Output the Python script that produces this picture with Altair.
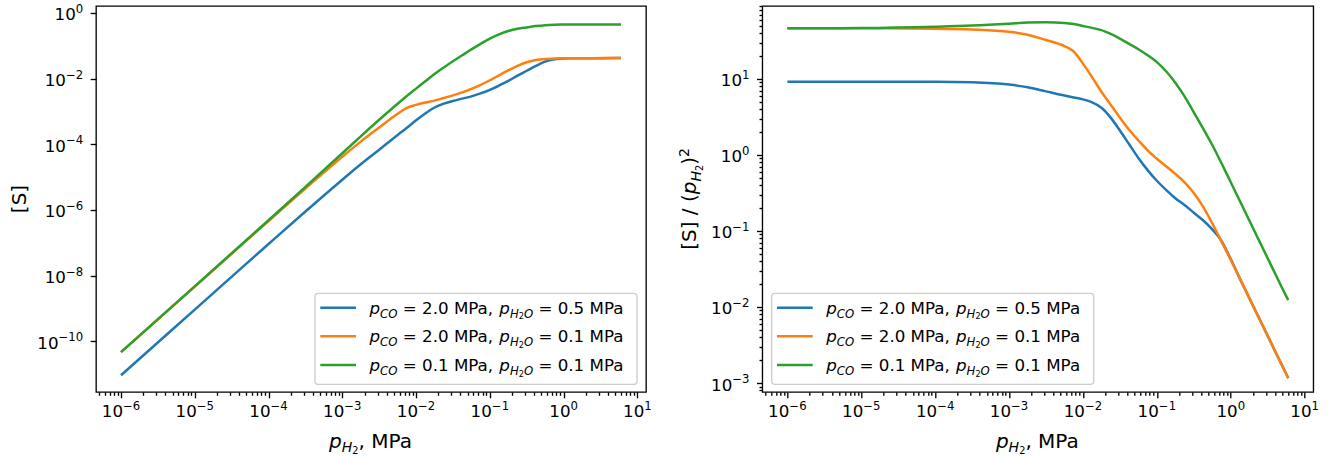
import math
import altair as alt
import pandas as pd

# ---------------- data (log10 values) ----------------
LOG_P = [-6, -5, -4, -3.5, -3, -2.75, -2.5, -2.25, -2.125, -2, -1.875, -1.75, -1.625,
         -1.5, -1.375, -1.25, -1.125, -1, -0.875, -0.75, -0.625, -0.5, -0.375, -0.25,
         -0.125, 0, 0.125, 0.25, 0.4, 0.55, 0.7, 0.778]

LEFT_BLUE = [-11.04, -9.04, -7.04, -6.05, -5.08, -4.61, -4.165, -3.72, -3.5, -3.27, -3.06,
             -2.88, -2.76, -2.68, -2.61, -2.54, -2.45, -2.34, -2.21, -2.07, -1.91, -1.76,
             -1.61, -1.48, -1.41, -1.385, -1.38, -1.378, -1.377, -1.376, -1.375, -1.375]
LEFT_ORANGE = [-10.335, -8.335, -6.34, -5.35, -4.38, -3.92, -3.49, -3.07, -2.89, -2.8, -2.73,
               -2.67, -2.59, -2.51, -2.42, -2.31, -2.19, -2.05, -1.9, -1.75, -1.61, -1.5,
               -1.43, -1.40, -1.39, -1.382, -1.378, -1.377, -1.376, -1.375, -1.375, -1.375]
LEFT_GREEN = [-10.335, -8.33, -6.315, -5.3, -4.275, -3.76, -3.255, -2.765, -2.53, -2.305, -2.08,
              -1.86, -1.66, -1.47, -1.29, -1.11, -0.94, -0.78, -0.65, -0.55, -0.48, -0.44,
              -0.40, -0.37, -0.355, -0.35, -0.348, -0.347, -0.347, -0.347, -0.347, -0.347]

RIGHT_BLUE = [0.963, 0.963, 0.962, 0.955, 0.925, 0.89, 0.835, 0.78, 0.755, 0.73, 0.69, 0.62,
              0.49, 0.32, 0.14, -0.04, -0.2, -0.34, -0.46, -0.57, -0.66, -0.76, -0.86, -0.98,
              -1.13, -1.37, -1.63, -1.88, -2.18, -2.48, -2.78, -2.935]
RIGHT_ORANGE = [1.665, 1.665, 1.66, 1.65, 1.62, 1.58, 1.51, 1.43, 1.36, 1.2, 1.02, 0.83, 0.66,
                0.49, 0.33, 0.19, 0.06, -0.05, -0.15, -0.25, -0.36, -0.5, -0.68, -0.9, -1.14,
                -1.38, -1.63, -1.88, -2.18, -2.48, -2.78, -2.935]
RIGHT_GREEN = [1.665, 1.668, 1.685, 1.70, 1.725, 1.74, 1.745, 1.735, 1.72, 1.695, 1.67, 1.64,
               1.59, 1.53, 1.46, 1.39, 1.31, 1.22, 1.1, 0.95, 0.77, 0.56, 0.35, 0.13, -0.11,
               -0.36, -0.61, -0.86, -1.16, -1.46, -1.76, -1.91]

P_CO = ["2.0", "2.0", "0.1"]
P_H2O = ["0.5", "0.1", "0.1"]
SERIES = [f"pCO = {a} MPa, pH2O = {b} MPa" for a, b in zip(P_CO, P_H2O)]
COLORS = ["#1f77b4", "#ff7f0e", "#2ca02c"]

X_DOM = (-6.339, 1.117)
LEFT_Y_DOM = (-11.55, 0.213)
RIGHT_Y_DOM = (-3.118, 1.958)
X_MAJOR = [-6, -5, -4, -3, -2, -1, 0, 1]
LEFT_Y_MAJOR = [-10, -8, -6, -4, -2, 0]
RIGHT_Y_MAJOR = [-3, -2, -1, 0, 1]

PLOT_H = 386
LEFT_W = 550
RIGHT_W = 551
FS_TICK = 16.7
FS_EXP = 11.7
FS_LEG = 16.7
FS_TITLE = 20

# --------------- helpers ----------------
LOGV = "(log(datum.value)/LN10)"
MAJOR_TEST = f"abs({LOGV} - round({LOGV})) < 0.001"

W = {' ': 0.318, '[': 0.390, ']': 0.390, 'S': 0.635, '/': 0.337, '(': 0.390, ')': 0.390,
     'p': 0.635, 'H': 0.752, 'C': 0.698, 'O': 0.787, '=': 0.838, '.': 0.318, ',': 0.318,
     'M': 0.863, 'P': 0.603, 'a': 0.613, '\u2212': 0.838}


def tw(s, fs):
    return sum(W.get(c, 0.636) for c in s) * fs


def exp_text(k):
    return str(k).replace("-", "\u2212")


def tick_values(dom, majors, minors=True):
    vals = []
    for d in range(math.floor(dom[0]) - 1, math.ceil(dom[1]) + 1):
        for k in range(1, 10):
            if k > 1 and not minors:
                continue
            if k == 1 and d not in majors:
                continue
            v = k * 10.0 ** d
            if dom[0] <= math.log10(v) <= dom[1]:
                vals.append(v)
    return vals


def make_axis(values):
    return alt.Axis(values=values, labels=False,
                    tickSize={"condition": {"test": MAJOR_TEST, "value": 5.8}, "value": 3.3},
                    tickColor="black", tickWidth=1.33, grid=False, domain=False, title=None)


def layout(segs, x0, y0, rot=False):
    """segs: (text, size, italic, shift_down). Returns rows of text pieces."""
    rows = []
    pos = 0.0
    for text, fs, it, sh in segs:
        lead = len(text) - len(text.lstrip(' '))
        start = pos + lead * W[' '] * fs
        t = text.strip(' ')
        if rot:
            rows.append(dict(tx=x0 + sh, ty=y0 - start, text=t, fs=fs, it=it, rot=True))
        else:
            rows.append(dict(tx=x0 + start, ty=y0 + sh, text=t, fs=fs, it=it, rot=False))
        pos += tw(text, fs)
    return rows, pos


def total(segs):
    return sum(tw(t, fs) for t, fs, _, _ in segs)


def legend_segs(a, b):
    f = FS_LEG
    return [("p", f, True, 0), ("CO", f * 0.7, True, 3.7), (f" = {a} MPa, ", f, False, 0),
            ("p", f, True, 0), ("H", f * 0.7, True, 3.7), ("2", f * 0.49, False, 5.6),
            ("O", f * 0.7, True, 3.7), (f" = {b} MPa", f, False, 0)]


XTITLE = [("p", FS_TITLE, True, 0), ("H", FS_TITLE * 0.7, True, 4.4),
          ("2", FS_TITLE * 0.49, False, 6.6), (", MPa", FS_TITLE, False, 0)]

TEN_W = tw("10", FS_TICK)
EXP_RAISE = 7.3


def tick_label_layers(majors, scale, axis_ch, axis):
    """Tick labels '10' + superscript exponent, positioned through the scale."""
    layers = []
    groups = {}
    for k in majors:
        groups.setdefault(len(exp_text(k)), []).append(k)
    for _, ks in groups.items():
        ew = tw(exp_text(ks[0]), FS_EXP)
        df = pd.DataFrame(dict(v=[10.0 ** k for k in ks], ten=["10"] * len(ks),
                               e=[exp_text(k) for k in ks]))
        if axis_ch == "x":
            dx = TEN_W / 2 - ew / 2
            pos = dict(x=alt.X("v:Q", scale=scale, axis=axis), y=alt.value(PLOT_H + 25.3))
            base_dy = 0
        else:
            dx = 0
            pos = dict(y=alt.Y("v:Q", scale=scale, axis=axis), x=alt.value(-12.8 - ew))
            base_dy = 7.5
        layers.append(alt.Chart(df).mark_text(
            align="right", baseline="alphabetic", dx=dx, dy=base_dy, fontSize=FS_TICK,
            font="DejaVu Sans", color="black").encode(text="ten:N", **pos))
        layers.append(alt.Chart(df).mark_text(
            align="left", baseline="alphabetic", dx=dx, dy=base_dy - EXP_RAISE, fontSize=FS_EXP,
            font="DejaVu Sans", color="black").encode(text="e:N", **pos))
    return layers


def panel(logys, ydom, ymajor, yminor, width, ytitle, ytitle_x, box_x):
    xs = alt.Scale(type="log", domain=[10 ** X_DOM[0], 10 ** X_DOM[1]], nice=False)
    ys = alt.Scale(type="log", domain=[10 ** ydom[0], 10 ** ydom[1]], nice=False)
    xaxis = make_axis(tick_values(X_DOM, X_MAJOR))
    yaxis = make_axis(tick_values(ydom, ymajor, yminor))
    rows = []
    for name, arr in zip(SERIES, logys):
        for lp, ly in zip(LOG_P, arr):
            rows.append(dict(p=10 ** lp, s=10 ** ly, series=name))
    df = pd.DataFrame(rows)
    lines = alt.Chart(df).mark_line(strokeWidth=2.5, interpolate="monotone").encode(
        x=alt.X("p:Q", scale=xs, axis=xaxis),
        y=alt.Y("s:Q", scale=ys, axis=yaxis),
        color=alt.Color("series:N", scale=alt.Scale(domain=SERIES, range=COLORS), legend=None),
    )

    # legend
    bx1, bx2 = box_x, box_x + 322
    by1, by2 = 287.3, 378.3
    box = alt.Chart(pd.DataFrame([dict(x1=bx1, x2=bx2, y1=by1, y2=by2)])).mark_rect(
        cornerRadius=3.3, fill="white", fillOpacity=0.8, stroke="#cccccc", strokeWidth=1.3
    ).encode(x=alt.X("x1:Q", scale=None, axis=None), x2="x2:Q",
             y=alt.Y("y1:Q", scale=None, axis=None), y2="y2:Q")
    row_y = [301.8, 330.3, 359.0]
    handles = pd.DataFrame([dict(x1=bx1 + 5.3, x2=bx1 + 41.0, y=yy, c=c)
                            for yy, c in zip(row_y, COLORS)])
    hl = alt.Chart(handles).mark_rule(strokeWidth=2.5).encode(
        x=alt.X("x1:Q", scale=None, axis=None), x2="x2:Q",
        y=alt.Y("y:Q", scale=None, axis=None), color=alt.Color("c:N", scale=None))

    texts = []
    for yy, a, b in zip(row_y, P_CO, P_H2O):
        r, _ = layout(legend_segs(a, b), bx1 + 54.5, yy + 6.0)
        texts += r
    r, _ = layout(XTITLE, width / 2 - total(XTITLE) / 2, 441.5)
    texts += r
    r, _ = layout(ytitle, ytitle_x, PLOT_H / 2 + total(ytitle) / 2, rot=True)
    texts += r
    tdf = pd.DataFrame(texts)

    layers = [lines, box, hl]
    layers += tick_label_layers(X_MAJOR, xs, "x", xaxis)
    layers += tick_label_layers(ymajor, ys, "y", yaxis)
    for rot in (False, True):
        for it in (False, True):
            sub = tdf[(tdf.rot == rot) & (tdf.it == it)][["tx", "ty", "text", "fs"]]
            if len(sub) == 0:
                continue
            layers.append(alt.Chart(sub).mark_text(
                align="left", baseline="alphabetic", font="DejaVu Sans", color="black",
                fontStyle="italic" if it else "normal", angle=270 if rot else 0
            ).encode(x=alt.X("tx:Q", scale=None, axis=None),
                     y=alt.Y("ty:Q", scale=None, axis=None),
                     text="text:N", size=alt.Size("fs:Q", scale=None)))
    return alt.layer(*layers).properties(width=width, height=PLOT_H)


left = panel([LEFT_BLUE, LEFT_ORANGE, LEFT_GREEN], LEFT_Y_DOM, LEFT_Y_MAJOR, False, LEFT_W,
             [("[S]", FS_TITLE, False, 0)], -69.6, 219.0)
right = panel([RIGHT_BLUE, RIGHT_ORANGE, RIGHT_GREEN], RIGHT_Y_DOM, RIGHT_Y_MAJOR, True, RIGHT_W,
              [("[S] / (", FS_TITLE, False, 0), ("p", FS_TITLE, True, 0),
               ("H", FS_TITLE * 0.7, True, 4.4), ("2", FS_TITLE * 0.49, False, 6.6),
               (")", FS_TITLE, False, 0), ("2", FS_TITLE * 0.7, False, -7.5)],
              -66.0, 9.4)

chart = alt.hconcat(left, right, spacing=116.3, bounds="flush").properties(
    autosize=alt.AutoSizeParams(type="none"),
    padding={"left": 96, "top": 6, "right": 1239, "bottom": 450},
).configure_view(stroke="black", strokeWidth=1.33)

chart.save("out.html", embed_options={"renderer": "svg", "actions": False})
